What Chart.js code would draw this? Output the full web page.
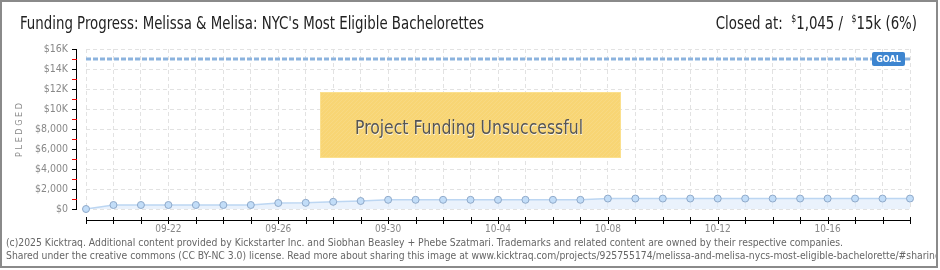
<!DOCTYPE html>
<html>
<head>
<meta charset="utf-8">
<script src="https://cdn.jsdelivr.net/npm/chart.js@4/dist/chart.umd.min.js"></script>
<style>
html, body { margin: 0; padding: 0; background: #fff; }
</style>
</head>
<body>
<canvas id="graph" width="940" height="270"></canvas>
<script>
// =========================== Data
const days = ['09-19','09-20','09-21','09-22','09-23','09-24','09-25','09-26','09-27','09-28','09-29','09-30',
    '10-01','10-02','10-03','10-04','10-05','10-06','10-07','10-08','10-09','10-10','10-11','10-12',
    '10-13','10-14','10-15','10-16','10-17','10-18','10-19']
const pledged = [0, 400, 400, 400, 400, 400, 400, 600, 620, 720, 800, 920,
    920, 920, 920, 920, 920, 920, 920, 1045, 1045, 1045, 1045, 1045,
    1045, 1045, 1045, 1045, 1045, 1045, 1045]
const yLabels = ['$0', '$2,000', '$4,000', '$6,000', '$8,000', '$10K', '$12K', '$14K', '$16K']
const goal = 15000

const title = "Funding Progress: Melissa & Melisa: NYC's Most Eligible Bachelorettes"
const footer1 = '(c)2025 Kicktraq. Additional content provided by Kickstarter Inc. and Siobhan Beasley + Phebe Szatmari. Trademarks and related content are owned by their respective companies.'
const footer2 = 'Shared under the creative commons (CC BY-NC 3.0) license. Read more about sharing this image at www.kicktraq.com/projects/925755174/melissa-and-melisa-nycs-most-eligible-bachelorette/#sharing'

const FONT = '"DejaVu Sans Condensed", "DejaVu Sans", sans-serif'

// =========================== Plugin: frame, texts, axes, goal, overlay
const decor = {
    id: 'decor',
    beforeDatasetsDraw(chart){
        const c = chart.ctx
        const a = chart.chartArea
        const gy = chart.scales.y.getPixelForValue(goal)
        c.save()
        c.strokeStyle = '#8cb3de'
        c.lineWidth = 3
        c.setLineDash([5, 2])
        c.beginPath()
        c.moveTo(a.left, gy)
        c.lineTo(a.right, gy)
        c.stroke()
        c.restore()
    },
    afterDraw(chart){
        const c = chart.ctx
        const a = chart.chartArea
        const xs = chart.scales.x
        const ys = chart.scales.y
        c.save()

        // goal badge
        const gy = ys.getPixelForValue(goal)
        c.fillStyle = '#3d85d0'
        c.beginPath()
        c.roundRect(872, gy - 7, 33, 14, 2)
        c.fill()
        c.fillStyle = '#fff'
        c.font = 'bold 9px ' + FONT
        c.textAlign = 'center'
        c.textBaseline = 'middle'
        c.fillText('GOAL', 888.5, gy + 0.5)

        // y axis
        c.strokeStyle = '#000'
        c.lineWidth = 1
        c.beginPath()
        c.moveTo(76.5, a.top)
        c.lineTo(76.5, a.bottom + 1)
        c.stroke()
        for(let v = 0; v <= 16000; v += 1000){
            const py = Math.round(ys.getPixelForValue(v)) + 0.5
            c.strokeStyle = (v % 2000 === 0) ? '#000' : '#e00'
            c.beginPath()
            c.moveTo(72, py)
            c.lineTo(77, py)
            c.stroke()
        }

        // x axis
        c.strokeStyle = '#000'
        c.beginPath()
        c.moveTo(a.left, 220.5)
        c.lineTo(a.right + 1, 220.5)
        c.stroke()
        days.forEach((d, i) => {
            const px = Math.round(xs.getPixelForValue(i)) + 0.5
            c.beginPath()
            c.moveTo(px, 217)
            c.lineTo(px, 224)
            c.stroke()
        })

        // PLEDGED
        c.save()
        c.translate(20, 130)
        c.rotate(-Math.PI / 2)
        c.fillStyle = '#888'
        c.font = '9px ' + FONT
        c.textAlign = 'center'
        c.textBaseline = 'middle'
        c.fillText('P L E D G E D', 0, 0)
        c.restore()

        // overlay box
        c.fillStyle = '#f8d574'
        c.fillRect(320, 92, 301, 66)
        c.save()
        c.beginPath()
        c.rect(320, 92, 301, 66)
        c.clip()
        c.strokeStyle = 'rgba(255,255,255,0.10)'
        c.lineWidth = 1
        for(let k = -80; k < 320; k += 4){
            c.beginPath()
            c.moveTo(320 + k, 158)
            c.lineTo(320 + k + 66, 92)
            c.stroke()
        }
        c.restore()
        c.strokeStyle = '#fbe08e'
        c.strokeRect(320.5, 92.5, 300, 65)
        c.font = '19px ' + FONT
        c.textAlign = 'center'
        c.textBaseline = 'alphabetic'
        c.fillStyle = 'rgba(255,255,255,0.8)'
        c.fillText('Project Funding Unsuccessful', 469.5, 134.5, 228)
        c.fillStyle = '#555'
        c.fillText('Project Funding Unsuccessful', 469, 134, 228)

        // title (narrowed to the reference width)
        c.textAlign = 'left'
        c.fillStyle = '#222'
        c.font = '17px ' + FONT
        const tx = 464 / c.measureText(title).width
        c.save()
        c.translate(20, 29)
        c.scale(tx, 1)
        c.fillText(title, 0, 0)
        c.restore()

        // closed at, right aligned at 917 with the same narrowing
        const parts = [
            ['Closed at:  ', 17, 0],
            ['$', 10, -7],
            ['1,045 /  ', 17, 0],
            ['$', 10, -7],
            ['15k (6%)', 17, 0]
        ]
        let total = 0
        parts.forEach(p => { c.font = p[1] + 'px ' + FONT; total += c.measureText(p[0]).width })
        c.save()
        c.translate(917 - total * tx, 29)
        c.scale(tx, 1)
        let cx = 0
        parts.forEach(p => {
            c.font = p[1] + 'px ' + FONT
            c.fillText(p[0], cx, p[2])
            cx += c.measureText(p[0]).width
        })
        c.restore()

        // footer
        c.fillStyle = '#666'
        c.font = '10px ' + FONT
        const sx = 837 / c.measureText(footer1).width
        c.save()
        c.beginPath()
        c.rect(0, 230, 937, 37)
        c.clip()
        c.translate(6, 246)
        c.scale(sx, 1)
        c.fillText(footer1, 0, 0)
        c.fillText(footer2, 0, 13)
        c.restore()

        // frame
        c.strokeStyle = '#8a8a8a'
        c.lineWidth = 2
        c.strokeRect(1, 1, 936, 266)
        c.restore()
    }
}

// =========================== Chart
const cv = document.getElementById('graph')
new Chart(cv, {
    type: 'line',
    data: {
        labels: days,
        datasets: [{
            data: pledged,
            clip: false,
            borderColor: '#bcd6f2',
            borderWidth: 1.5,
            backgroundColor: 'rgba(225,237,251,0.7)',
            fill: 'origin',
            tension: 0,
            pointRadius: 3.5,
            pointBackgroundColor: '#c2ddf8',
            pointBorderColor: '#8fa9c9',
            pointBorderWidth: 1
        }]
    },
    options: {
        responsive: false,
        animation: false,
        layout: { padding: { top: 49, right: 30, left: 0, bottom: 0 } },
        scales: {
            x: {
                offset: false,
                grid: { color: '#e2e2e2', drawTicks: false },
                border: { display: false, dash: [4, 3] },
                ticks: {
                    autoSkip: false,
                    maxRotation: 0,
                    padding: 14,
                    color: '#888',
                    font: { size: 10, family: FONT },
                    callback: (v, i) => (i % 4 === 3) ? days[i] : ''
                },
                afterFit: s => { s.height = 61 }
            },
            y: {
                min: 0,
                max: 16000,
                grid: { color: '#e2e2e2', drawTicks: false },
                border: { display: false, dash: [4, 3] },
                ticks: {
                    stepSize: 2000,
                    padding: 18,
                    color: '#888',
                    font: { size: 10.5, family: FONT },
                    callback: v => yLabels[v / 2000]
                },
                afterFit: s => { s.height = s.height; s.width = 86 }
            }
        },
        plugins: {
            legend: { display: false },
            tooltip: { enabled: false }
        }
    },
    plugins: [decor]
})
</script>
</body>
</html>
